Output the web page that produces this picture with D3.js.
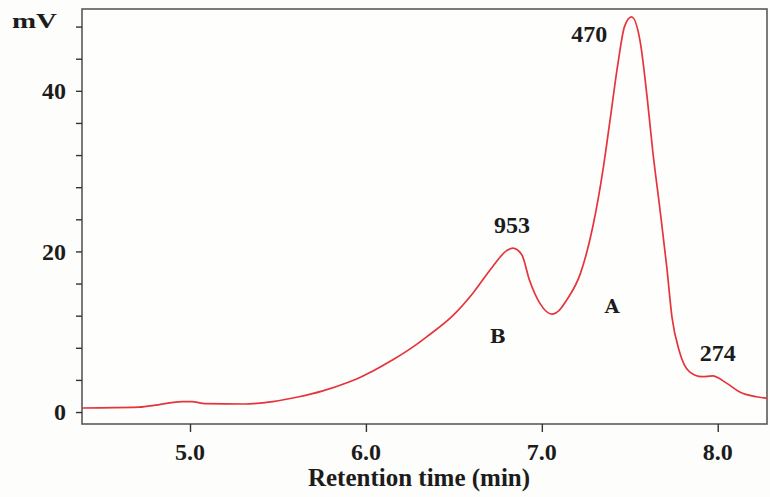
<!DOCTYPE html>
<html>
<head>
<meta charset="utf-8">
<script src="https://cdn.jsdelivr.net/npm/d3@7"></script>
<style>
  body { margin: 0; background: #fdfdfb; }
  svg { display: block; }
  .tick-label { font-family: "Liberation Serif", "Times New Roman", serif; font-weight: bold; fill: #1c1c1c; }
</style>
</head>
<body>
<div id="chart"></div>
<script>
// retention time (min) and detector signal (mV)
var times = [4.386, 4.71, 4.82, 4.955, 5.01, 5.085, 5.31, 5.47, 5.62, 5.75, 5.90, 5.966,
  6.03, 6.153, 6.28, 6.347, 6.494, 6.608, 6.72, 6.80, 6.835, 6.886, 6.93, 6.99, 7.057,
  7.10, 7.14, 7.22, 7.29, 7.35, 7.39, 7.43, 7.47, 7.51, 7.56, 7.60, 7.63, 7.67, 7.71,
  7.74, 7.78, 7.84, 7.91, 7.97, 8.05, 8.125, 8.22, 8.28];
var signal = [0.5, 0.6, 0.9, 1.3, 1.3, 1.05, 1.0, 1.3, 1.9, 2.6, 3.7, 4.3,
  5.0, 6.5, 8.3, 9.4, 12.0, 14.8, 18.1, 20.1, 20.4, 19.6, 16.4, 13.5, 12.2,
  12.7, 13.9, 17.3, 23.1, 30.5, 36.7, 43, 48, 49.2, 46, 38.9, 32.6, 25.5, 18.1,
  11.8, 7.7, 5.0, 4.4, 4.5, 3.6, 2.5, 1.9, 1.7];

var xTicks = [5, 6, 7, 8];
var yTicks = [0, 4, 8, 12, 16, 20, 24, 28, 32, 36, 40, 44, 48];
var yLabels = [0, 20, 40];

// peak annotations
var noteText = ["953", "470", "274", "A", "B"];
var noteTime = [6.83, 7.27, 8.0, 7.40, 6.75];
var noteValue = [22.3, 46.1, 6.4, 12.3, 8.6];

var W = 770, H = 497;
var padL = 82, padR = 767, padT = 9, padB = 424;

var svg = d3.select("#chart").append("svg")
    .attr("width", W)
    .attr("height", H);

svg.append("rect").attr("width", W).attr("height", H).attr("fill", "#fdfdfb");

var x = d3.scaleLinear().domain([4.386, 8.28]).range([padL, padR]);
var y = d3.scaleLinear().domain([-1.49, 50.19]).range([padB, padT]);

// frame
svg.append("rect")
    .attr("x", padL).attr("y", padT)
    .attr("width", padR - padL).attr("height", padB - padT)
    .attr("fill", "#fefefc")
    .attr("stroke", "#5a5a5a")
    .attr("stroke-width", 1.6);

// y axis
var yAxis = svg.append("g")
    .attr("transform", "translate(" + padL + ",0)")
    .call(d3.axisLeft(y).tickValues(yTicks).tickSize(6).tickFormat(""));
yAxis.select(".domain").remove();
yAxis.selectAll("line").attr("stroke", "#333").attr("stroke-width", 1.4);

svg.selectAll(".ylab")
    .data(yLabels)
    .enter().append("text")
    .attr("class", "tick-label")
    .attr("x", 66)
    .attr("y", function (d) { return y(d); })
    .attr("dy", "0.34em")
    .attr("text-anchor", "end")
    .style("font-size", "24px")
    .text(function (d) { return d; });

svg.append("text")
    .attr("class", "tick-label")
    .attr("x", 12)
    .attr("y", 28)
    .attr("textLength", 45)
    .attr("lengthAdjust", "spacingAndGlyphs")
    .style("font-size", "22px")
    .text("mV");

// x axis
var xAxis = svg.append("g")
    .attr("transform", "translate(0," + padB + ")")
    .call(d3.axisBottom(x).tickValues(xTicks).tickSize(8).tickFormat(""));
xAxis.select(".domain").remove();
xAxis.selectAll("line").attr("stroke", "#333").attr("stroke-width", 1.4);

svg.selectAll(".xlab")
    .data(xTicks)
    .enter().append("text")
    .attr("class", "tick-label")
    .attr("x", function (d) { return x(d); })
    .attr("y", 460)
    .attr("text-anchor", "middle")
    .style("font-size", "24px")
    .text(function (d) { return d.toFixed(1); });

svg.append("text")
    .attr("class", "tick-label")
    .attr("x", 419)
    .attr("y", 486)
    .attr("text-anchor", "middle")
    .style("font-size", "25px")
    .text("Retention time (min)");

// trace
var pts = times.map(function (t, i) { return [t, signal[i]]; });
var line = d3.line()
    .x(function (d) { return x(d[0]); })
    .y(function (d) { return y(d[1]); })
    .curve(d3.curveMonotoneX);

svg.append("path")
    .datum(pts)
    .attr("d", line)
    .attr("fill", "none")
    .attr("stroke", "#e5343c")
    .attr("stroke-width", 1.7);

// annotations
svg.selectAll(".note")
    .data(noteText)
    .enter().append("text")
    .attr("class", "tick-label")
    .attr("x", function (d, i) { return x(noteTime[i]); })
    .attr("y", function (d, i) { return y(noteValue[i]); })
    .attr("text-anchor", "middle")
    .style("font-family", function (d) { return d.length == 1 ? "'DejaVu Serif', serif" : null; })
    .style("font-size", function (d) { return d.length == 1 ? "19px" : "24px"; })
    .text(function (d) { return d; });
</script>
</body>
</html>
